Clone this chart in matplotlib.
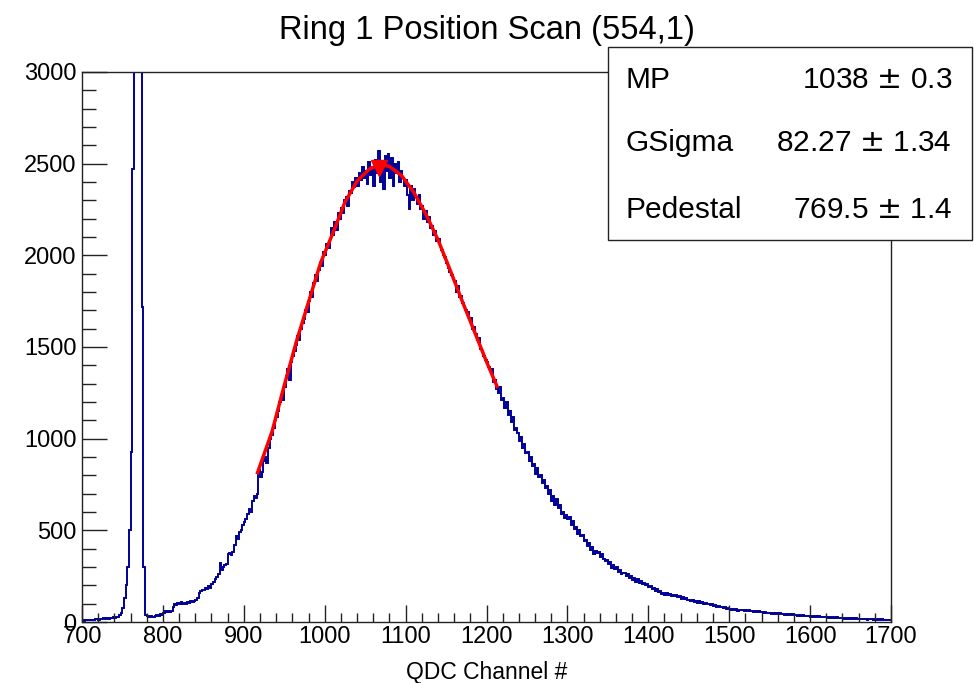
import numpy as np
import matplotlib
matplotlib.use('Agg')
import matplotlib.pyplot as plt
from matplotlib import rcParams
from matplotlib.patches import Rectangle
from matplotlib.ticker import MultipleLocator

rcParams['font.family'] = ['Liberation Sans', 'DejaVu Sans']
rcParams['font.size'] = 16

# QDC spectrum, 2-channel bins from 700 to 1700 (counts)
bin_lo = 700
bin_w = 2
counts = [
    10, 8, 12, 11, 9, 13, 12, 10, 14, 15, 13, 17, 16, 20, 18, 22, 19, 24, 21, 26, 24, 28, 30, 38, 50,
    75, 130, 200, 300, 500, 930, 2470, 7000, 13000, 16000, 12000, 6000, 1720, 300, 40, 32, 28, 35, 30, 27, 33, 38, 35, 42, 40,
    50, 58, 55, 60, 52, 62, 80, 98, 92, 105, 96, 108, 100, 104, 98, 110, 106, 112, 108, 115, 120, 132, 160, 168, 175,
    172, 185, 178, 195, 188, 205, 220, 232, 245, 262, 320, 285, 300, 310, 318, 372, 375, 368, 380, 420, 470, 455, 490, 500, 530,
    545, 560, 590, 615, 600, 660, 690, 675, 700, 830, 790, 820, 880, 900, 870, 950, 1000, 1020, 1060, 1100, 1120, 1150, 1200, 1240, 1210,
    1280, 1340, 1380, 1320, 1420, 1450, 1480, 1510, 1560, 1540, 1600, 1630, 1650, 1700, 1690, 1750, 1800, 1770, 1850, 1890, 1860, 1920, 1960, 1940, 2020,
    2000, 2060, 2040, 2090, 2150, 2110, 2180, 2140, 2230, 2200, 2260, 2230, 2300, 2320, 2270, 2350, 2340, 2400, 2370, 2420, 2380, 2450, 2410, 2480, 2420,
    2460, 2390, 2510, 2440, 2480, 2380, 2520, 2450, 2570, 2400, 2500, 2360, 2540, 2460, 2550, 2420, 2530, 2380, 2500, 2450, 2510, 2400, 2460, 2420, 2380,
    2410, 2330, 2250, 2380, 2300, 2360, 2320, 2280, 2330, 2250, 2270, 2200, 2240, 2180, 2210, 2150, 2160, 2110, 2130, 2080, 2090, 2050, 2030, 2000, 1990,
    1960, 1930, 1910, 1890, 1870, 1860, 1800, 1830, 1770, 1780, 1740, 1720, 1700, 1690, 1650, 1660, 1600, 1610, 1570, 1540, 1550, 1490, 1480, 1450, 1430,
    1420, 1390, 1370, 1380, 1310, 1320, 1270, 1250, 1280, 1210, 1220, 1170, 1200, 1130, 1150, 1090, 1120, 1050, 1060, 1030, 990, 1010, 950, 970, 920,
    930, 880, 900, 850, 860, 810, 840, 790, 800, 760, 775, 730, 740, 700, 720, 660, 690, 640, 670, 620, 640, 590, 600, 570, 585,
    560, 575, 530, 550, 510, 520, 480, 500, 470, 475, 440, 450, 415, 430, 395, 410, 370, 390, 375, 380, 355, 370, 345, 335, 340,
    315, 330, 295, 310, 290, 300, 275, 285, 260, 270, 265, 250, 262, 240, 250, 230, 242, 220, 232, 215, 222, 205, 212, 200, 205,
    190, 198, 180, 188, 170, 178, 163, 170, 155, 160, 148, 156, 145, 152, 142, 150, 140, 146, 135, 140, 128, 134, 124, 130, 120,
    122, 114, 118, 110, 116, 106, 112, 102, 108, 98, 104, 96, 100, 92, 96, 88, 92, 84, 88, 80, 82, 76, 80, 72, 74,
    72, 66, 72, 64, 70, 62, 68, 63, 67, 60, 66, 60, 64, 58, 62, 56, 60, 54, 58, 52, 55, 50, 53, 47, 50,
    48, 44, 49, 43, 47, 42, 47, 41, 46, 40, 45, 39, 42, 38, 41, 36, 38, 34, 37, 33, 36, 32, 35, 31, 34,
    30, 33, 28, 32, 27, 31, 26, 29, 27, 25, 28, 24, 27, 23, 26, 22, 25, 21, 24, 20, 23, 19, 22, 19, 21,
    18, 21, 17, 20, 16, 19, 15, 18, 14, 17, 13, 17, 14, 16, 13, 15, 12, 15, 11, 14, 10, 13, 11, 12, 10,
]

# fitted curve
fit_x = [917, 935, 950, 965, 980, 995, 1010, 1025, 1040, 1055, 1068, 1080,
         1095, 1110, 1125, 1140, 1155, 1170, 1185, 1200, 1213]
fit_y = [815, 1040, 1290, 1530, 1745, 1960, 2120, 2290, 2405, 2470, 2495, 2485,
         2435, 2345, 2225, 2085, 1920, 1750, 1585, 1420, 1285]
peak_x, peak_y = 1067, 2479

stat_names = ['MP', 'GSigma', 'Pedestal']
stat_vals = ['1038 $\\pm$ 0.3', '82.27 $\\pm$ 1.34', '769.5 $\\pm$ 1.4']

edges = bin_lo + bin_w * np.arange(len(counts) + 1)

fig = plt.figure(figsize=(9.74, 6.83), dpi=100)
ax = fig.add_axes([0.0842, 0.0893, 0.9148 - 0.0842, 0.8946 - 0.0893])

ax.stairs(counts, edges, baseline=None, color='#000099', lw=1.4)
ax.plot(fit_x, fit_y, color='red', lw=2.5)
ax.plot([peak_x], [peak_y], marker='v', color='red', ms=11, ls='none')

ax.set_xlim(700, 1700)
ax.set_ylim(0, 3000)
ax.xaxis.set_major_locator(MultipleLocator(100))
ax.xaxis.set_minor_locator(MultipleLocator(20))
ax.yaxis.set_major_locator(MultipleLocator(500))
ax.yaxis.set_minor_locator(MultipleLocator(100))
ax.tick_params(axis='both', which='both', direction='in', width=1.0, colors='#222222',
               labelcolor='black', top=False, right=False)
ax.tick_params(axis='x', which='major', length=12, pad=3, labelsize=17)
ax.tick_params(axis='x', which='minor', length=6.5)
ax.tick_params(axis='y', which='major', length=18, pad=4, labelsize=17)
ax.tick_params(axis='y', which='minor', length=10)
for s in ax.spines.values():
    s.set_linewidth(1.0)
    s.set_color('#222222')

ax.set_xlabel('QDC Channel #', fontsize=16.5, labelpad=9)
fig.text(0.5, 0.956, 'Ring 1 Position Scan (554,1)', ha='center', va='center', fontsize=23.5)

# stats box
fig.patches.append(Rectangle((0.6242, 0.6486), 0.998 - 0.6242, 0.9312 - 0.6486,
                             transform=fig.transFigure, facecolor='white',
                             edgecolor='#222222', lw=1.0, zorder=5))
for i, (nm, v) in enumerate(zip(stat_names, stat_vals)):
    y = [0.8829, 0.7906, 0.6925][i]
    fig.text(0.6417, y, nm, ha='left', va='center', fontsize=21.5, zorder=6)
    fig.text(0.9774, y, v, ha='right', va='center', fontsize=21.5, zorder=6)

fig.savefig('out.png', dpi=100)
